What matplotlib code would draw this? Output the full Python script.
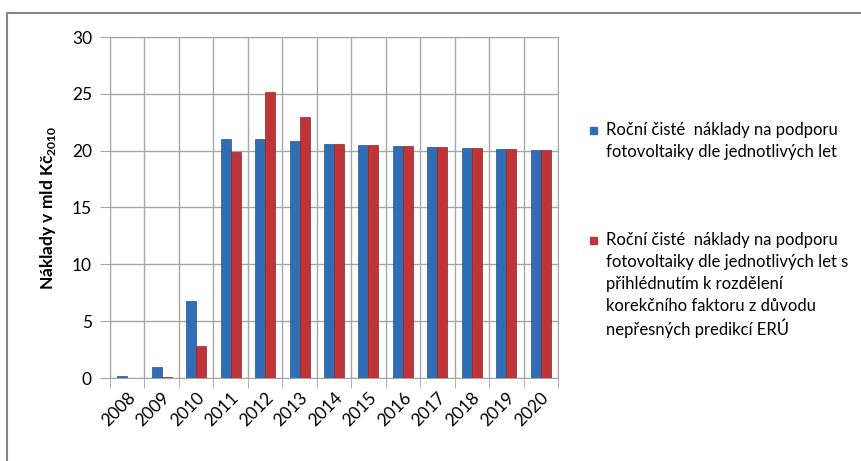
import numpy as np
import matplotlib
matplotlib.use("Agg")
import matplotlib.pyplot as plt
from matplotlib.patches import Rectangle

plt.rcParams['font.family'] = ['Lato', 'DejaVu Sans']
plt.rcParams['mathtext.fontset'] = 'custom'
plt.rcParams['mathtext.rm'] = 'Lato'
plt.rcParams['mathtext.bf'] = 'Lato:bold'

years = ["2008", "2009", "2010", "2011", "2012", "2013", "2014",
         "2015", "2016", "2017", "2018", "2019", "2020"]
naklady = [0.15, 1.0, 6.8, 21.0, 21.0, 20.85, 20.6, 20.5, 20.45, 20.35, 20.25, 20.15, 20.1]
naklady_kor = [0.0, 0.05, 2.8, 19.9, 25.2, 23.0, 20.6, 20.5, 20.45, 20.35, 20.25, 20.15, 20.1]
labels = [["Roční čisté  náklady na podporu", "fotovoltaiky dle jednotlivých let"],
          ["Roční čisté  náklady na podporu", "fotovoltaiky dle jednotlivých let s",
           "přihlédnutím k rozdělení", "korekčního faktoru z důvodu",
           "nepřesných predikcí ERÚ"]]
yticks = [0, 5, 10, 15, 20, 25, 30]

BLUE, RED = "#2F6DB5", "#BF3436"
GRID = "#A6A6A6"

fig = plt.figure(figsize=(8.62, 4.61), dpi=100)
ax = fig.add_axes([110 / 862, 83 / 461, 448 / 862, 341 / 461])

x = np.arange(len(years))
w = 0.29
ax.bar(x - w / 2, naklady, w, color=BLUE, edgecolor="#24528A", linewidth=0.5, zorder=3)
ax.bar(x + w / 2, naklady_kor, w, color=RED, edgecolor="#8E2628", linewidth=0.5, zorder=3)

ax.set_xlim(-0.5, len(years) - 0.5)
ax.set_ylim(0, 30)
ax.set_yticks(yticks)
ax.set_xticks(x)
ax.set_xticklabels(years, rotation=45, ha="right", rotation_mode="anchor", fontsize=12.5)
ax.set_xticks(np.arange(len(years) + 1) - 0.5, minor=True)
ax.tick_params(axis="x", which="major", length=0, pad=8)
ax.tick_params(axis="x", which="minor", length=7, color=GRID)
ax.tick_params(axis="y", length=7, color=GRID, labelsize=12.5, pad=6)
ax.grid(axis="y", color=GRID, linewidth=1, zorder=0)
ax.grid(axis="x", which="minor", color=GRID, linewidth=1, zorder=0)
for s in ax.spines.values():
    s.set_color(GRID)
ax.set_ylabel(r"Náklady v mld Kč$_{\mathbf{2010}}$", fontsize=12.5, fontweight="bold", labelpad=10)

# legend drawn by hand so the marker sits on the first line as in the original
for col, lines, y0 in ((BLUE, labels[0], 130), (RED, labels[1], 240)):
    fig.patches.append(Rectangle((590 / 862, 1 - (y0 + 4) / 461), 7 / 862, 7 / 461,
                                 transform=fig.transFigure, color=col))
    for i, line in enumerate(lines):
        fig.text(606 / 862, 1 - (y0 + i * 22) / 461, line, fontsize=12,
                 va="center", ha="left")

# outer chart frame
fig.patches.append(Rectangle((7 / 862, -0.1), 1.2, 1 - 13 / 461 + 0.1, transform=fig.transFigure,
                             fill=False, edgecolor="#858585", linewidth=1.5))

fig.savefig("out.png", dpi=100)
